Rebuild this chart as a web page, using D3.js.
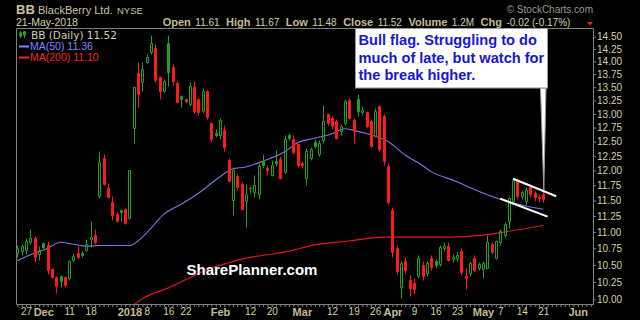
<!DOCTYPE html>
<html lang="en">
<head>
<meta charset="UTF-8">
<title>BB Daily</title>
<script src="https://d3js.org/d3.v7.min.js"></script>
<style>
  body { margin: 0; background: #000; }
  svg { display: block; }
  text { font-family: "Liberation Sans", Arial, sans-serif; }
</style>
</head>
<body>
<svg id="chart" width="640" height="320"></svg>
<script>
// trading days shown as candles
const dates = [
  "2017-11-22","2017-11-24","2017-11-27","2017-11-28","2017-11-29","2017-11-30",
  "2017-12-01","2017-12-04","2017-12-05","2017-12-06","2017-12-07","2017-12-08",
  "2017-12-11","2017-12-12","2017-12-13","2017-12-14","2017-12-15","2017-12-18",
  "2017-12-19","2017-12-20","2017-12-21","2017-12-22","2017-12-26","2017-12-27",
  "2017-12-28","2017-12-29",
  "2018-01-02","2018-01-03","2018-01-04","2018-01-05","2018-01-08","2018-01-09",
  "2018-01-10","2018-01-11","2018-01-12","2018-01-16","2018-01-17","2018-01-18",
  "2018-01-19","2018-01-22","2018-01-23","2018-01-24","2018-01-25","2018-01-26",
  "2018-01-29","2018-01-30","2018-01-31",
  "2018-02-01","2018-02-02","2018-02-05","2018-02-06","2018-02-07","2018-02-08",
  "2018-02-09","2018-02-12","2018-02-13","2018-02-14","2018-02-15","2018-02-16",
  "2018-02-20","2018-02-21","2018-02-22","2018-02-23","2018-02-26","2018-02-27",
  "2018-02-28",
  "2018-03-01","2018-03-02","2018-03-05","2018-03-06","2018-03-07","2018-03-08",
  "2018-03-09","2018-03-12","2018-03-13","2018-03-14","2018-03-15","2018-03-16",
  "2018-03-19","2018-03-20","2018-03-21","2018-03-22","2018-03-23","2018-03-26",
  "2018-03-27","2018-03-28","2018-03-29",
  "2018-04-02","2018-04-03","2018-04-04","2018-04-05","2018-04-06","2018-04-09",
  "2018-04-10","2018-04-11","2018-04-12","2018-04-13","2018-04-16","2018-04-17",
  "2018-04-18","2018-04-19","2018-04-20","2018-04-23","2018-04-24","2018-04-25",
  "2018-04-26","2018-04-27","2018-04-30",
  "2018-05-01","2018-05-02","2018-05-03","2018-05-04","2018-05-07","2018-05-08",
  "2018-05-09","2018-05-10","2018-05-11","2018-05-14","2018-05-15","2018-05-16",
  "2018-05-17","2018-05-18","2018-05-21"
];
// empty days to the right of the last candle
const futureDates = ["2018-05-22","2018-05-23","2018-05-24","2018-05-25","2018-05-29",
  "2018-05-30","2018-05-31","2018-06-01","2018-06-04","2018-06-05","2018-06-06",
  "2018-06-07","2018-06-08"];

const open = [10.68,10.71,10.72,10.85,10.90,10.66,10.83,10.80,10.44,10.32,10.33,10.32,
  10.30,10.57,10.67,10.68,10.72,10.89,10.95,11.58,12.21,11.70,11.47,11.28,11.34,11.37,
  11.22,12.74,13.78,13.60,13.99,14.18,14.28,13.70,13.43,14.37,13.90,13.58,13.34,13.27,
  13.19,13.50,13.28,13.05,13.42,12.84,12.66,
  12.62,12.70,12.18,11.51,11.90,11.77,11.49,11.71,11.64,11.60,12.16,12.05,11.93,12.17,
  12.20,11.98,12.61,12.54,12.45,
  12.13,11.88,12.22,12.49,12.28,12.52,12.99,12.93,12.87,12.69,12.84,13.26,12.89,13.28,
  13.04,13.04,12.87,12.60,13.14,12.96,12.08,
  11.34,10.76,10.17,10.56,10.28,10.24,10.33,10.50,10.38,10.60,10.55,10.51,10.76,10.79,
  10.58,10.60,10.70,10.34,10.38,10.60,10.46,
  10.44,10.46,10.81,10.60,10.84,10.96,11.17,11.50,11.84,11.58,11.49,11.72,11.62,11.55,11.61];
const high = [10.80,10.82,10.91,11.05,10.93,10.78,10.85,10.86,10.46,10.33,10.35,10.34,
  10.57,10.67,10.78,10.70,10.89,11.17,11.05,12.33,12.29,11.79,11.57,11.31,11.36,11.38,
  12.01,13.52,13.99,14.00,14.15,14.54,14.35,13.72,13.66,14.54,13.95,13.62,13.36,13.30,
  13.60,13.62,13.30,13.48,13.44,12.86,12.72,
  12.92,12.80,12.22,12.06,11.95,11.80,11.78,11.74,11.93,12.12,12.29,12.10,12.18,12.35,
  12.25,12.61,12.65,12.62,12.48,
  12.16,12.38,12.40,12.55,12.52,13.17,13.02,12.96,12.90,12.82,13.28,13.30,12.92,13.37,
  13.15,13.06,12.90,13.10,13.17,13.00,12.12,
  11.40,10.80,10.55,10.62,10.35,10.30,10.64,10.56,10.55,10.64,10.58,10.80,10.85,10.84,
  10.66,10.70,10.75,10.45,10.56,10.65,10.54,
  10.56,10.95,10.84,10.88,11.04,11.15,11.56,11.86,11.88,11.68,11.72,11.76,11.66,11.60,11.67];
const low = [10.62,10.64,10.66,10.82,10.54,10.57,10.74,10.37,10.30,10.09,10.18,10.17,
  10.28,10.54,10.59,10.62,10.70,10.77,10.82,11.54,11.75,11.54,11.18,11.16,11.17,11.12,
  11.20,12.48,13.13,13.42,13.97,14.15,13.60,13.28,13.40,13.53,13.55,13.20,13.12,13.20,
  13.15,13.02,12.98,13.02,12.90,12.50,12.58,
  12.55,12.34,11.80,11.26,11.68,11.35,11.08,11.62,11.55,11.53,12.04,11.93,11.90,12.08,
  11.85,11.95,12.52,12.28,12.06,
  12.04,11.76,12.18,12.38,12.25,12.48,12.80,12.72,12.55,12.62,12.80,12.90,12.48,12.96,
  12.98,12.75,12.40,12.58,12.33,12.10,11.45,
  10.62,10.36,10.02,10.38,10.04,10.08,10.30,10.28,10.34,10.42,10.46,10.48,10.70,10.55,
  10.54,10.56,10.35,10.14,10.33,10.40,10.42,
  10.31,10.44,10.66,10.58,10.80,10.92,11.06,11.46,11.53,11.52,11.42,11.55,11.50,11.48,11.48];
const close = [10.75,10.79,10.86,10.91,10.62,10.72,10.77,10.42,10.32,10.19,10.26,10.21,
  10.55,10.63,10.61,10.64,10.81,10.92,10.84,12.15,11.77,11.56,11.26,11.17,11.32,11.14,
  12.00,13.50,13.38,13.85,14.08,14.37,13.63,13.42,13.62,13.79,13.61,13.22,13.27,13.23,
  13.53,13.05,13.03,13.42,12.95,12.55,12.62,
  12.88,12.40,11.82,12.00,11.72,11.37,11.60,11.70,11.75,12.07,12.09,12.01,12.10,12.12,
  11.88,12.54,12.56,12.31,12.10,
  12.09,12.34,12.37,12.42,12.48,12.87,12.84,12.78,12.57,12.78,13.24,12.93,12.69,13.05,
  13.07,12.78,12.42,13.06,12.37,12.17,11.47,
  10.69,10.41,10.52,10.42,10.16,10.14,10.60,10.34,10.52,10.47,10.49,10.77,10.79,10.57,
  10.62,10.64,10.39,10.30,10.53,10.43,10.51,
  10.53,10.84,10.69,10.86,11.01,11.12,11.54,11.84,11.57,11.64,11.68,11.60,11.56,11.54,11.52];

// moving averages
const ma50Dates = ["2017-11-22","2017-11-28","2017-12-04","2017-12-07","2017-12-12","2017-12-15",
  "2017-12-20","2018-01-02","2018-01-05","2018-01-09","2018-01-12","2018-01-19","2018-01-25",
  "2018-01-31","2018-02-05","2018-02-06","2018-02-09","2018-02-15","2018-02-23","2018-02-28",
  "2018-03-06","2018-03-12","2018-03-15","2018-03-19","2018-03-23","2018-03-29","2018-04-05",
  "2018-04-10","2018-04-13","2018-04-23","2018-04-27","2018-05-07","2018-05-15","2018-05-21"];
const ma50Values = [10.56,10.65,10.75,10.84,10.81,10.78,10.79,10.79,10.92,11.06,11.28,11.44,11.62,
  11.84,11.99,12.03,12.06,12.16,12.32,12.48,12.56,12.64,12.73,12.70,12.62,12.50,12.26,
  12.13,11.98,11.81,11.68,11.52,11.41,11.36];
const ma200Dates = ["2018-01-03","2018-01-05","2018-01-16","2018-01-23","2018-01-29","2018-02-05",
  "2018-02-09","2018-02-16","2018-02-23","2018-03-06","2018-03-16","2018-03-28","2018-04-10",
  "2018-04-19","2018-05-01","2018-05-09","2018-05-21"];
const ma200Values = [9.92,10.01,10.16,10.31,10.43,10.53,10.60,10.65,10.69,10.80,10.86,10.92,10.92,
  10.92,10.95,11.01,11.10];

const yTicks = [10, 10.25, 10.5, 10.75, 11, 11.25, 11.5, 11.75, 12, 12.25, 12.5, 12.75,
  13, 13.25, 13.5, 13.75, 14, 14.25, 14.5];
const xTickDates = ["2017-11-27","2017-12-01","2017-12-11","2017-12-18","2018-01-02","2018-01-08",
  "2018-01-16","2018-01-22","2018-02-01","2018-02-12","2018-02-20","2018-03-01","2018-03-12",
  "2018-03-19","2018-03-26","2018-04-02","2018-04-09","2018-04-16","2018-04-23","2018-05-01",
  "2018-05-07","2018-05-14","2018-05-21","2018-06-01"];
const xTickLabels = ["27","Dec","11","18","2018","8","16","22","Feb","12","20","Mar","12",
  "19","26","Apr","9","16","23","May","7","14","21","Jun"];
const boldLabels = ["Dec","2018","Feb","Mar","Apr","May","Jun"];

const flagUpper = [["2018-05-10", 11.86], ["2018-05-24", 11.57]];
const flagLower = [["2018-05-07", 11.53], ["2018-05-22", 11.24]];
const note = ["Bull flag. Struggling to do", "much of late, but watch for", "the break higher."];
const notePoint = ["2018-05-21", 11.67];

const quote = [["Open", "11.61"], ["High", "11.67"], ["Low", "11.48"], ["Close", "11.52"],
  ["Volume", "1.2M"], ["Chg", "-0.02 (-0.17%)"]];

const GREEN = "#1fa01f", RED = "#ff1a1a", TXT = "#d2cfae", KHAKI = "#c4bc92";

const svg = d3.select("#chart");
const plot = { left: 16.5, right: 593.5, top: 28.5, bottom: 304.5 };

const axisDates = dates.concat(futureDates);
const pos = new Map(axisDates.map((d, i) => [d, i]));
const x = d3.scaleLinear().domain([0, dates.length - 1]).range([17.4, 543.3]);
const y = d3.scaleLog().domain([10, 14.5]).range([299.3, 36.7]);
const xd = d => x(pos.get(d));
const px = v => Math.round(v) + 0.5;

svg.append("rect").attr("width", 640).attr("height", 320).attr("fill", "#000");

svg.append("clipPath").attr("id", "clip").append("rect")
  .attr("x", plot.left).attr("y", plot.top)
  .attr("width", plot.right - plot.left).attr("height", plot.bottom - plot.top);

const g = svg.append("g").attr("clip-path", "url(#clip)");

// moving averages
const line = d3.line().x(d => xd(d[0])).y(d => y(d[1])).curve(d3.curveMonotoneX);
g.append("path").datum(d3.zip(ma200Dates, ma200Values))
  .attr("d", line).attr("fill", "none").attr("stroke", "#e01818").attr("stroke-width", 1.1);
g.append("path").datum(d3.zip(ma50Dates, ma50Values))
  .attr("d", line).attr("fill", "none").attr("stroke", "#7878e0").attr("stroke-width", 1.1);

// candles
const candles = dates.map((d, i) => ({
  i, o: open[i], h: high[i], l: low[i], c: close[i],
  prev: i ? close[i - 1] : open[i]
}));

const cg = g.selectAll("g.candle").data(candles).enter().append("g").attr("class", "candle");
cg.each(function (d) {
  const col = d.c >= d.prev ? GREEN : RED;
  const cx = Math.round(x(d.i));
  const top = px(y(Math.max(d.o, d.c)));
  const bot = px(y(Math.min(d.o, d.c)));
  const sel = d3.select(this);
  sel.append("path")
    .attr("d", `M${cx + 0.5},${px(y(d.h))}V${top}M${cx + 0.5},${bot}V${px(y(d.l))}`)
    .attr("stroke", col).attr("fill", "none");
  sel.append("path")
    .attr("d", `M${cx - 0.5},${top}h2V${bot}h-2Z`)
    .attr("stroke", col)
    .attr("fill", d.c > d.o ? "none" : col);
});

// flag trend lines
[flagUpper, flagLower].forEach(f => {
  svg.append("line")
    .attr("x1", xd(f[0][0])).attr("y1", y(f[0][1]))
    .attr("x2", xd(f[1][0])).attr("y2", y(f[1][1]))
    .attr("stroke", "#fff").attr("stroke-width", 2);
});

// frame
svg.append("path")
  .attr("d", `M${plot.left},${plot.bottom}V${plot.top}H${plot.right}V${plot.bottom}H${plot.left}`)
  .attr("fill", "none").attr("stroke", "#808080");

// y axis (right)
const ya = svg.append("g").attr("transform", `translate(${plot.right - 0.5},0)`)
  .call(d3.axisRight(y).tickValues(yTicks).tickSize(3).tickPadding(1).tickFormat(d3.format(".2f")));
ya.select(".domain").remove();
ya.selectAll("line").attr("stroke", "#808080");
ya.selectAll("text").attr("fill", TXT).style("font-size", "10px")
  .style("font-family", "'Liberation Sans', Arial, sans-serif");

// daily ticks under the axis
const dayTicks = d3.range(axisDates.length).filter(i => x(i) < plot.right);
const xt = svg.append("g").attr("transform", `translate(0,${plot.bottom - 0.5})`)
  .call(d3.axisBottom(x).tickValues(dayTicks).tickSize(3).tickFormat(""));
xt.select(".domain").remove();
xt.selectAll("line").attr("stroke", "#808080");

// x labels
const xl = svg.append("g").attr("transform", `translate(0,${plot.bottom})`)
  .call(d3.axisBottom(x).tickValues(xTickDates.map(d => pos.get(d))).tickSize(0).tickPadding(3.6)
    .tickFormat((v, i) => xTickLabels[i]));
xl.select(".domain").remove();
xl.selectAll("text")
  .style("font-family", "'Liberation Sans', Arial, sans-serif")
  .style("font-size", (v, i) => boldLabels.includes(xTickLabels[i]) ? "11px" : "10px")
  .style("font-weight", (v, i) => boldLabels.includes(xTickLabels[i]) ? "bold" : "normal")
  .attr("fill", (v, i) => boldLabels.includes(xTickLabels[i]) ? KHAKI : TXT);

// header
svg.append("text").attr("x", 16).attr("y", 14).text("BB")
  .attr("fill", "#c8c4a0").style("font-size", "13px").style("font-weight", "bold");
svg.append("text").attr("x", 38).attr("y", 14).text("BlackBerry Ltd.")
  .attr("fill", "#c8c4a0").style("font-size", "11px");
svg.append("text").attr("x", 117).attr("y", 13.5).text("NYSE")
  .attr("fill", "#c8c4a0").style("font-size", "9.5px");
svg.append("text").attr("x", 16).attr("y", 26).text("21-May-2018")
  .attr("fill", TXT).style("font-size", "10.5px");
svg.append("text").attr("x", 593).attr("y", 12.5).attr("text-anchor", "end")
  .text("\u00a9 StockCharts.com").attr("fill", "#9d9b8a").style("font-size", "10px");

let qx = 162.7;
quote.forEach(([k, v]) => {
  const t1 = svg.append("text").attr("x", qx).attr("y", 26).text(k)
    .attr("fill", KHAKI).style("font-size", "11px").style("font-weight", "bold");
  qx += t1.node().getComputedTextLength() + 4.5;
  const t2 = svg.append("text").attr("x", qx).attr("y", 26).text(v)
    .attr("fill", TXT).style("font-size", "10px");
  qx += t2.node().getComputedTextLength() + 6.5;
});
svg.append("path").attr("d", "M587,22L593,22L590,25.5Z").attr("fill", "#ff1a1a");

// legend
const lg = svg.append("g");
[[20, 33, 36, 31, 38], [24, 32, 35, 31, 38]].forEach(([cx, bt, bb, wt, wb]) => {
  lg.append("path").attr("d", `M${cx + 0.5},${wt}V${wb}`).attr("stroke", GREEN);
  lg.append("rect").attr("x", cx - 0.5).attr("y", bt).attr("width", 2).attr("height", bb - bt)
    .attr("fill", GREEN).attr("stroke", GREEN);
});
lg.append("text").attr("x", 31).attr("y", 38.5).text("BB (Daily) 11.52")
  .attr("fill", TXT).style("font-size", "10.5px").style("font-family", "'DejaVu Sans', sans-serif");
lg.append("line").attr("x1", 19).attr("x2", 29).attr("y1", 46.5).attr("y2", 46.5)
  .attr("stroke", "#8484ff").attr("stroke-width", 2);
lg.append("text").attr("x", 30).attr("y", 50).text("MA(50) 11.36")
  .attr("fill", "#8484ff").style("font-size", "10.5px");
lg.append("line").attr("x1", 19).attr("x2", 29).attr("y1", 57.5).attr("y2", 57.5)
  .attr("stroke", "#ff2222").attr("stroke-width", 2);
lg.append("text").attr("x", 30).attr("y", 61).text("MA(200) 11.10")
  .attr("fill", "#ff2222").style("font-size", "10.5px");

// watermark
svg.append("text").attr("x", 186.5).attr("y", 274.7).text("SharePlanner.com")
  .attr("fill", "#fff").style("font-size", "15px").style("font-weight", "bold");

// annotation box with pointer
const box = { x: 355.5, y: 28.5, w: 192, h: 59.5 };
svg.append("path")
  .attr("d", `M${box.x + box.w - 7},${box.y + box.h}L${box.x + box.w - 1.5},${box.y + box.h}L${xd(notePoint[0]) + 0.5},${y(notePoint[1])}Z`)
  .attr("fill", "#fff").attr("stroke", "#9a9a9a");
svg.append("rect").attr("x", box.x).attr("y", box.y).attr("width", box.w).attr("height", box.h)
  .attr("fill", "#fff").attr("stroke", "#9a9a9a");
note.forEach((t, i) => {
  svg.append("text").attr("x", 358.5).attr("y", 45 + i * 17.5).text(t)
    .attr("fill", "#1616d8").style("font-size", "14.6px").style("font-weight", "bold");
});
</script>
</body>
</html>
